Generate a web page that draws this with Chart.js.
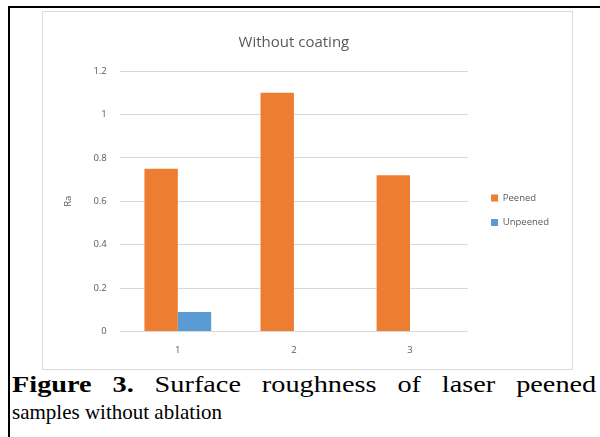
<!DOCTYPE html>
<html>
<head>
<meta charset="utf-8">
<script src="https://cdn.jsdelivr.net/npm/chart.js@4.4.1/dist/chart.umd.min.js"></script>
<style>
  html, body { margin: 0; padding: 0; background: #fff; }
  body { width: 600px; height: 437px; position: relative; overflow: hidden; }
  #outerTop { position: absolute; left: 8px; top: 6px; width: 592px; height: 2px; background: #000; }
  #outerLeft { position: absolute; left: 8px; top: 6px; width: 2px; height: 431px; background: #000; }
  #frame { position: absolute; left: 42px; top: 11px; width: 529px; height: 357px; border: 1px solid #dcdcdc; box-sizing: content-box; }
  #wrap { position: absolute; left: 42px; top: 11px; width: 530px; height: 358px; }
  .cap { position: absolute; left: 12px; font-family: "Liberation Serif", "Times New Roman", serif; color: #000; white-space: nowrap; }
  #cap1 { top: 372px; width: 475px; font-size: 23px; text-align: justify; text-align-last: justify; white-space: normal; transform: scaleX(1.23); transform-origin: 0 0; }
  #cap2 { top: 400px; font-size: 21px; }
</style>
</head>
<body>
<div id="outerTop"></div>
<div id="outerLeft"></div>
<div id="frame"></div>
<div id="wrap"><canvas id="c" width="530" height="358"></canvas></div>
<div class="cap" id="cap1"><b>Figure 3.</b> Surface roughness of laser peened</div>
<div class="cap" id="cap2">samples without ablation</div>
<script>
const categories = ['1', '2', '3'];
const peened = [0.75, 1.10, 0.72];
const unpeened = [0.09, 0, 0];
const seriesNames = ['Peened', 'Unpeened'];
const yTickLabels = ['0', '0.2', '0.4', '0.6', '0.8', '1', '1.2'];
const chartTitle = 'Without coating';
const yAxisTitle = 'Ra';

const gray = '#595959';
const tickFont = { family: "'Open Sans', 'Liberation Sans', sans-serif", size: 9.5 };

// shift the legend box a little away from the plot, as in the reference
const legendShift = {
  id: 'legendShift',
  afterLayout(chart) {
    const lg = chart.legend;
    if (!lg) return;
    lg.left += 8; lg.right += 8;
    lg.top += 9; lg.bottom += 9;
  }
};

new Chart(document.getElementById('c'), {
  type: 'bar',
  data: {
    labels: categories,
    datasets: [
      { label: seriesNames[0], data: peened, backgroundColor: '#ED7D31', borderWidth: 0 },
      { label: seriesNames[1], data: unpeened, backgroundColor: '#5B9BD5', borderWidth: 0 }
    ]
  },
  plugins: [legendShift],
  options: {
    responsive: false,
    animation: false,
    devicePixelRatio: 1,
    layout: { padding: { top: 13, left: 17, right: 21, bottom: 8 } },
    datasets: { bar: { categoryPercentage: 0.575, barPercentage: 1.0 } },
    plugins: {
      title: {
        display: true, text: chartTitle, color: gray, fullSize: false,
        font: { family: "'Open Sans', 'Liberation Sans', sans-serif", size: 15, weight: 'normal' },
        padding: { top: 10, bottom: 19 }
      },
      legend: {
        position: 'right', fullSize: false,
        labels: {
          color: gray, boxWidth: 7, boxHeight: 7, padding: 15,
          font: tickFont
        }
      },
      tooltip: { enabled: false }
    },
    scales: {
      x: {
        grid: { display: false },
        border: { display: false },
        ticks: { color: gray, font: tickFont, padding: 5 }
      },
      y: {
        min: 0, max: 1.2,
        afterBuildTicks: (axis) => { axis.ticks = yTickLabels.map(v => ({ value: parseFloat(v) })); },
        ticks: {
          color: gray, font: tickFont, padding: 13,
          callback: (v) => yTickLabels.find(t => Math.abs(parseFloat(t) - v) < 1e-6)
        },
        grid: { color: '#d9d9d9', drawTicks: false, lineWidth: 1 },
        border: { display: false },
        title: { display: true, text: yAxisTitle, color: gray, font: tickFont, padding: { top: 4, bottom: 6 } }
      }
    }
  }
});
</script>
</body>
</html>
